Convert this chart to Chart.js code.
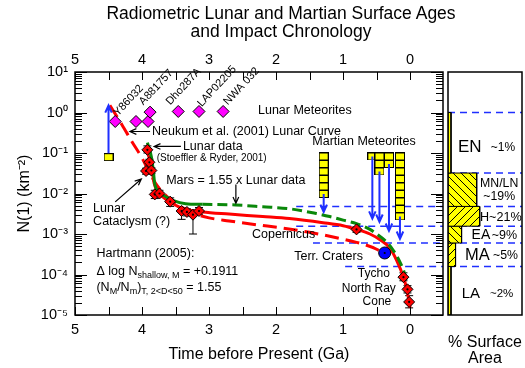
<!DOCTYPE html>
<html>
<head>
<meta charset="utf-8">
<script src="https://cdn.jsdelivr.net/npm/chart.js@4.4.1/dist/chart.umd.min.js"></script>
<style>
  html, body { margin: 0; padding: 0; background: #fff; }
  #wrap { position: relative; width: 525px; height: 368px; overflow: hidden; font-family: "Liberation Sans", Arial, sans-serif; }
  #title { position: absolute; left: 81px; top: 4px; width: 400px; text-align: center; font-size: 17.5px; line-height: 18.4px; color: #000; }
  #mainChart { position: absolute; left: 0; top: 0; }
  #areaChart { position: absolute; left: 440px; top: 0; }
</style>
</head>
<body>
<div id="wrap">
  <canvas id="mainChart" width="525" height="368"></canvas>
  <canvas id="areaChart" width="85" height="368"></canvas>
  <div id="title">Radiometric Lunar and Martian Surface Ages<br>and Impact Chronology</div>
</div>
<script>
// ---- data (ages in Ga, N = cumulative crater density N(1) per km^2) ----
const lunarAges = [3.92, 3.89, 3.94, 3.86, 3.81, 3.74, 3.58, 3.41, 3.33, 3.24, 3.15];
const lunarN = [0.12, 0.059, 0.036, 0.037, 0.0095, 0.010, 0.0063, 0.0037, 0.0035, 0.0030, 0.0037];
const lunarLow = [0.10, 0.050, 0.030, 0.031, 0.0075, 0.0085, 0.0048, 0.0023, 0.0028, 0.0010, 0.0030];
const lunarHigh = [0.15, 0.070, 0.042, 0.043, 0.012, 0.012, 0.0078, 0.0045, 0.0042, 0.0037, 0.0045];

const youngCraters = ["Copernicus", "Tycho", "North Ray", "Cone"];
const youngAges = [0.80, 0.10, 0.04, 0.015];
const youngN = [0.0013, 0.000086, 0.000043, 0.000021];
const youngLow = [0.0011, 0.00007, 0.000035, 0.000015];
const youngHigh = [0.0015, 0.00011, 0.000053, 0.00003];

const terrAges = [0.38];
const terrN = [0.00034];
const terrLow = [0.00027];
const terrHigh = [0.00036];

const lunarMeteorites = ["Y86032", "A881757", "Dho287A", "LAP02205", "NWA 032"];
const lunarMetAges = [4.40, 4.09, 3.91, 3.88, 3.46, 3.15, 2.79];
const lunarMetN = [0.6, 0.6, 0.6, 1.02, 1.06, 1.06, 1.06];

const marsMetAges = [1.29, 0.564, 0.458, 0.316, 0.152];
const marsMetCounts = [6, 1, 3, 2, 9];
const marsMetArrowN = [0.0035, 0.0024, 0.0020, 0.0012, 0.00076];
const alhAge = 4.50;
const alhN = 0.079;
const alhArrowN = 1.5;

const neukumAges = [4.48, 4.3, 4.15, 4.0, 3.9, 3.8, 3.7, 3.55, 3.4, 3.2, 3.0, 2.7, 2.3, 1.9, 1.5, 1.2, 0.9, 0.7, 0.5, 0.35];
const neukumN = [1.5, 0.5, 0.19, 0.075, 0.036, 0.018, 0.011, 0.0065, 0.0045, 0.0031, 0.0025, 0.0021, 0.0017, 0.0014, 0.0011, 0.00088, 0.00068, 0.00056, 0.00042, 0.0003];

const hartmannAges = [3.93, 3.89, 3.85, 3.82, 3.78, 3.7, 3.58, 3.45, 3.3, 3.1, 2.7, 2.2, 1.8, 1.3, 1.0, 0.8, 0.6, 0.45, 0.3, 0.2, 0.1, 0.05, 0.0];
const hartmannN = [0.13, 0.07, 0.035, 0.018, 0.012, 0.0085, 0.0062, 0.0047, 0.0039, 0.0035, 0.0031, 0.0027, 0.0024, 0.0019, 0.0016, 0.0013, 0.001, 0.00072, 0.00044, 0.00022, 0.000086, 0.000043, 0.000015];

const marsAges = [3.92, 3.86, 3.83, 3.81, 3.7, 3.53, 3.35, 3.1, 2.6, 2.2, 1.8, 1.4, 1.2, 1.0, 0.8, 0.6, 0.5, 0.35, 0.25, 0.15, 0.08, 0.03];
const marsN = [0.18, 0.08, 0.035, 0.017, 0.0095, 0.0067, 0.0056, 0.0054, 0.0052, 0.0047, 0.0042, 0.0032, 0.0027, 0.0022, 0.0018, 0.0013, 0.001, 0.00063, 0.00039, 0.0002, 0.0001, 0.00004];

const units = ["EN", "MN/LN", "H", "EA", "MA", "LA"];
const unitPct = ["~1%", "~19%", "~21%", "~9%", "~5%", "~2%"];
const unitBarLength = [2, 19, 21, 9, 5, 2];
const unitTopN = [1, 0.032, 0.0048, 0.00156, 0.0006, 0.000158];
const unitBottomN = [0.032, 0.0048, 0.00156, 0.0006, 0.000158, 0.00001];
const unitLineStartAge = [null, null, 1.7, 1.7, 1.45, 0.97];

const xTickValues = [0, 0.5, 1, 1.5, 2, 2.5, 3, 3.5, 4, 4.5, 5];
const yTickValues = [];
for (let e = -5; e < 1; e++) {
  for (let m = 1; m < 10; m++) yTickValues.push(m * Math.pow(10, e));
}
yTickValues.push(10);

// ---- layout ----
const X_MIN = -0.49;
const X_MAX = 5;
const SQUARE_STEP = 0.185;       // decades per stacked meteorite box
const MARS_STACK_TOP = 0.082;
const FONT = '"Liberation Sans", Arial, Helvetica, sans-serif';
const BLUE = "#1f2fff";

Chart.defaults.font.family = FONT;
Chart.defaults.color = "#000";
Chart.defaults.animation = false;

const SUP = { "-": "\u207b", "0": "\u2070", "1": "\u00b9", "2": "\u00b2", "3": "\u00b3", "4": "\u2074", "5": "\u2075" };
const powerLabel = (v) => {
  const e = Math.log10(v);
  if (Math.abs(e - Math.round(e)) > 1e-6) return "";
  return "10" + String(Math.round(e)).split("").map((c) => SUP[c]).join("");
};

const pts = (xs, ys) => xs.map((x, i) => ({ x, y: ys[i] }));

const boxSprite = (w, h) => {
  const c = document.createElement("canvas");
  c.width = w;
  c.height = h;
  const g = c.getContext("2d");
  g.fillStyle = "#ffff00";
  g.fillRect(0, 0, w, h);
  g.strokeStyle = "#000";
  g.lineWidth = 1;
  g.strokeRect(0.5, 0.5, w - 1, h - 1);
  return c;
};

const hatch = (dir) => {
  const c = document.createElement("canvas");
  c.width = 8;
  c.height = 8;
  const g = c.getContext("2d");
  g.fillStyle = "#ffff00";
  g.fillRect(0, 0, 8, 8);
  g.strokeStyle = "#000";
  g.lineWidth = 1;
  g.beginPath();
  if (dir > 0) {
    g.moveTo(-1, 9); g.lineTo(9, -1);
    g.moveTo(-1, 1); g.lineTo(1, -1);
    g.moveTo(7, 9); g.lineTo(9, 7);
  } else {
    g.moveTo(-1, -1); g.lineTo(9, 9);
    g.moveTo(7, -1); g.lineTo(9, 1);
    g.moveTo(-1, 7); g.lineTo(1, 9);
  }
  g.stroke();
  return g.createPattern(c, "repeat");
};

const marsSquares = [];
marsMetAges.forEach((t, i) => {
  for (let k = 0; k < marsMetCounts[i]; k++) {
    marsSquares.push({ x: t, y: MARS_STACK_TOP * Math.pow(10, -SQUARE_STEP * k) });
  }
});

// ---- annotation layout (data coordinates) ----
const notes = [
  { text: "Lunar Meteorites", t: 2.27, n: 1.12 },
  { text: "Neukum et al. (2001) Lunar Curve", t: 3.85, n: 0.34 },
  { text: "Lunar data", t: 3.39, n: 0.145 },
  { text: "(Stoeffler & Ryder, 2001)", t: 3.78, n: 0.075, size: 10 },
  { text: "Mars = 1.55 x Lunar data", t: 3.64, n: 0.021 },
  { text: "Martian Meteorites", t: 1.46, n: 0.19 },
  { text: "Lunar", t: 4.73, n: 0.0043 },
  { text: "Cataclysm (?)", t: 4.73, n: 0.002 },
  { text: "Hartmann (2005):", t: 4.68, n: 0.00033 },
  { text: youngCraters[0], t: 2.36, n: 0.00096 },
  { text: "Terr. Craters", t: 1.73, n: 0.00028 },
  { text: youngCraters[1], t: 0.78, n: 0.000104, size: 12 },
  { text: youngCraters[2], t: 1.02, n: 0.000044, size: 12 },
  { text: youngCraters[3], t: 0.71, n: 0.0000219, size: 12 }
];
const meteoriteLabelAt = [[4.36, 0.8], [3.98, 1.49], [3.58, 1.49], [3.11, 1.35], [2.72, 1.49]];
const formulaLines = [
  { t: 4.68, n: 0.000126, runs: [["\u0394 log N", 0], ["shallow, M", 1], [" = +0.1911", 0]] },
  { t: 4.68, n: 0.000052, runs: [["(N", 0], ["M", 1], ["/N", 0], ["m", 1], [")", 0], ["T, 2<D<50", 1], [" = 1.55", 0]] }
];
const blackArrows = [
  [3.88, 0.34, 4.18, 0.34],
  [3.42, 0.145, 3.82, 0.145],
  [4.40, 0.0062, 4.01, 0.0228],
  [2.60, 0.0167, 2.60, 0.0057]
];

// ---- drawing helpers ----
const arrow = (ctx, x1, y1, x2, y2, color, width, head) => {
  const ang = Math.atan2(y2 - y1, x2 - x1);
  ctx.save();
  ctx.strokeStyle = color;
  ctx.lineWidth = width;
  ctx.lineJoin = "miter";
  ctx.beginPath();
  ctx.moveTo(x1, y1);
  ctx.lineTo(x2, y2);
  ctx.moveTo(x2 - head * Math.cos(ang - 0.42), y2 - head * Math.sin(ang - 0.42));
  ctx.lineTo(x2, y2);
  ctx.lineTo(x2 - head * Math.cos(ang + 0.42), y2 - head * Math.sin(ang + 0.42));
  ctx.stroke();
  ctx.restore();
};

const label = (ctx, text, x, y, size, rot) => {
  ctx.save();
  ctx.translate(x, y);
  if (rot) ctx.rotate((rot * Math.PI) / 180);
  ctx.font = `${size}px ${FONT}`;
  ctx.fillStyle = "#000";
  ctx.textAlign = "left";
  ctx.textBaseline = rot ? "alphabetic" : "middle";
  ctx.fillText(text, 0, 0);
  ctx.restore();
};

const chronoOverlay = {
  id: "chronoOverlay",
  beforeDatasetsDraw(chart) {
    const { ctx, scales } = chart;
    const bars = (ages, low, high) => {
      ages.forEach((t, i) => {
        const x = scales.x.getPixelForValue(t);
        const y1 = scales.y.getPixelForValue(low[i]);
        const y2 = scales.y.getPixelForValue(high[i]);
        ctx.beginPath();
        ctx.moveTo(x, y1); ctx.lineTo(x, y2);
        ctx.moveTo(x - 4, y1); ctx.lineTo(x + 4, y1);
        ctx.moveTo(x - 4, y2); ctx.lineTo(x + 4, y2);
        ctx.stroke();
      });
    };
    ctx.save();
    ctx.strokeStyle = "#000";
    ctx.lineWidth = 1;
    bars(lunarAges, lunarLow, lunarHigh);
    bars(youngAges, youngLow, youngHigh);
    bars(terrAges, terrLow, terrHigh);
    ctx.restore();
  },
  afterDatasetsDraw(chart) {
    const { ctx, scales } = chart;
    const X = (t) => scales.x.getPixelForValue(t);
    const Y = (n) => scales.y.getPixelForValue(n);

    // meteorite age arrows
    arrow(ctx, X(alhAge), Y(alhN) - 4, X(alhAge), Y(alhArrowN), BLUE, 2, 8);
    marsMetAges.forEach((t, i) => {
      const bottom = MARS_STACK_TOP * Math.pow(10, -SQUARE_STEP * (marsMetCounts[i] - 1));
      arrow(ctx, X(t), Y(bottom), X(t), Y(marsMetArrowN[i]), BLUE, 2, 8);
    });
    blackArrows.forEach(([t1, n1, t2, n2]) => arrow(ctx, X(t1), Y(n1), X(t2), Y(n2), "#000", 1.2, 7));

    notes.forEach((d) => label(ctx, d.text, X(d.t), Y(d.n), d.size || 12.5, 0));
    lunarMeteorites.forEach((name, i) => {
      const [t, n] = meteoriteLabelAt[i];
      label(ctx, name, X(t), Y(n), 11, -47);
    });

    formulaLines.forEach((line) => {
      let cx = X(line.t);
      const base = Y(line.n) + 4.5;
      ctx.save();
      ctx.fillStyle = "#000";
      ctx.textBaseline = "alphabetic";
      line.runs.forEach(([s, sub]) => {
        ctx.font = `${sub ? 9 : 12.5}px ${FONT}`;
        ctx.fillText(s, cx, base + (sub ? 3.5 : 0));
        cx += ctx.measureText(s).width;
      });
      ctx.restore();
    });
  },
  afterDraw(chart) {
    const { ctx, chartArea: a, scales } = chart;
    ctx.save();
    ctx.strokeStyle = "#000";
    ctx.lineWidth = 1;
    ctx.beginPath();
    scales.x.ticks.forEach((tk) => {
      const x = Math.round(scales.x.getPixelForValue(tk.value)) + 0.5;
      ctx.moveTo(x, a.bottom); ctx.lineTo(x, a.bottom - 8);
      ctx.moveTo(x, a.top); ctx.lineTo(x, a.top + 8);
    });
    scales.y.ticks.forEach((tk) => {
      const y = Math.round(scales.y.getPixelForValue(tk.value)) + 0.5;
      const len = powerLabel(tk.value) ? 12 : 7;
      ctx.moveTo(a.left, y); ctx.lineTo(a.left + len, y);
      ctx.moveTo(a.right, y); ctx.lineTo(a.right - len, y);
    });
    ctx.stroke();
    ctx.lineWidth = 1.5;
    ctx.strokeRect(a.left, a.top, a.width, a.height);
    ctx.restore();
  }
};

const timeAxis = (position, fit) => ({
  type: "linear",
  position,
  min: X_MIN,
  max: X_MAX,
  reverse: true,
  grid: { display: false, drawTicks: false },
  border: { display: false },
  afterBuildTicks: (s) => { s.ticks = xTickValues.map((v) => ({ value: v })); },
  ticks: {
    autoSkip: false,
    maxRotation: 0,
    padding: position === "top" ? 3 : 6,
    font: { size: 14.5 },
    callback: (v) => (Number.isInteger(v) ? String(v) : "")
  },
  afterFit: fit
});

const xBottom = timeAxis("bottom", (s) => { s.height = 53; });
xBottom.title = { display: true, text: "Time before Present (Ga)", font: { size: 16 }, padding: { top: 0, bottom: 4 } };

const mainDatasets = [
  {
    label: "Lunar data",
    data: pts(lunarAges, lunarN).concat(pts(youngAges, youngN)),
    pointStyle: "rectRot", pointRadius: 5.5,
    backgroundColor: "#ff0000", borderColor: "#000", borderWidth: 1, order: 2
  },
  {
    label: "Terr. Craters",
    data: pts(terrAges, terrN),
    pointStyle: "circle", pointRadius: 6,
    backgroundColor: "#0000ff", borderColor: "#000", borderWidth: 1, order: 2
  },
  {
    label: "centres",
    data: pts(lunarAges, lunarN).concat(pts(youngAges, youngN), pts(terrAges, terrN)),
    pointStyle: "circle", pointRadius: 1.1,
    backgroundColor: "#000", borderWidth: 0, order: 1
  },
  {
    label: "Lunar Meteorites",
    data: pts(lunarMetAges, lunarMetN),
    pointStyle: "rectRot", pointRadius: 6,
    backgroundColor: "#ff00ff", borderColor: "#000", borderWidth: 1, order: 2
  },
  {
    label: "Martian Meteorites",
    data: marsSquares.concat([{ x: alhAge, y: alhN }]),
    pointStyle: boxSprite(10, 8), pointRadius: 5, order: 3
  },
  {
    type: "line", label: "Neukum et al. (2001)",
    data: pts(neukumAges, neukumN),
    borderColor: "#ff0000", borderWidth: 3, borderDash: [14, 7],
    pointRadius: 0, cubicInterpolationMode: "monotone", fill: false, order: 6
  },
  {
    type: "line", label: "Hartmann (2005)",
    data: pts(hartmannAges, hartmannN),
    borderColor: "#ff0000", borderWidth: 3,
    pointRadius: 0, cubicInterpolationMode: "monotone", fill: false, order: 5
  },
  {
    type: "line", label: "Mars",
    data: pts(marsAges, marsN),
    borderColor: "#0a880a", borderWidth: 3,
    pointRadius: 0, cubicInterpolationMode: "monotone", fill: false, order: 4,
    segment: { borderDash: (c) => (c.p0.parsed.x >= 3.35 ? [] : [10, 5]) }
  }
];
unitTopN.forEach((n, i) => {
  if (unitLineStartAge[i] === null) return;
  mainDatasets.push({
    type: "line", label: units[i] + " boundary",
    data: [{ x: unitLineStartAge[i], y: n }, { x: X_MIN, y: n }],
    borderColor: BLUE, borderWidth: 1.5, borderDash: [7, 5],
    pointRadius: 0, fill: false, order: 7
  });
});

new Chart(document.getElementById("mainChart"), {
  type: "scatter",
  data: { datasets: mainDatasets },
  options: {
    responsive: false,
    events: [],
    layout: { padding: { left: 0, right: 82, top: 0, bottom: 0 } },
    plugins: { legend: { display: false }, tooltip: { enabled: false }, title: { display: false } },
    scales: {
      x: xBottom,
      x2: timeAxis("top", (s) => { s.height = 72; }),
      y: {
        type: "logarithmic",
        min: 0.00001,
        max: 10,
        grid: { display: false, drawTicks: false },
        border: { display: false },
        afterBuildTicks: (s) => { s.ticks = yTickValues.map((v) => ({ value: v })); },
        ticks: { autoSkip: false, padding: 7, font: { size: 14.5 }, callback: (v) => powerLabel(v) },
        title: { display: true, text: "N(1) (km\u207b\u00b2)", font: { size: 16 }, padding: { top: 15, bottom: 0 } },
        afterFit: (s) => { s.width = 75; }
      }
    }
  },
  plugins: [chronoOverlay]
});

// ---- right panel: surface area of Martian units ----
const unitFill = ["#ffff00", hatch(-1), hatch(1), hatch(-1), hatch(1), "#ffff00"];
const unitLabels = [
  { text: units[0], x: 6.6, n: 0.139, size: 17 },
  { text: unitPct[0], x: 28.3, n: 0.139, size: 12 },
  { text: units[1], x: 21.2, n: 0.0177, size: 12.3 },
  { text: unitPct[1], x: 23.4, n: 0.0084, size: 12.3 },
  { text: units[2] + unitPct[2], x: 21.2, n: 0.0025, size: 12.6 },
  { text: units[3], x: 15.6, n: 0.00094, size: 14 },
  { text: unitPct[3], x: 28.9, n: 0.00094, size: 12.5 },
  { text: units[4], x: 11.3, n: 0.0003, size: 16.5 },
  { text: unitPct[4], x: 29.8, n: 0.0003, size: 12.3 },
  { text: units[5], x: 9.1, n: 0.000034, size: 15 },
  { text: unitPct[5], x: 27.8, n: 0.000034, size: 11.5 }
];

const areaOverlay = {
  id: "areaOverlay",
  afterDatasetsDraw(chart) {
    const { ctx, scales } = chart;
    unitLabels.forEach((d) => label(ctx, d.text, scales.x.getPixelForValue(d.x), scales.y.getPixelForValue(d.n), d.size, 0));
  },
  afterDraw(chart) {
    const { ctx, chartArea: a } = chart;
    ctx.save();
    ctx.strokeStyle = "#000";
    ctx.lineWidth = 1.5;
    ctx.strokeRect(a.left, a.top, a.width, a.height);
    ctx.restore();
  }
};

const areaDatasets = units.map((u, i) => ({
  type: "line", label: u,
  data: [
    { x: 0, y: unitTopN[i] },
    { x: unitBarLength[i], y: unitTopN[i] },
    { x: unitBarLength[i], y: unitBottomN[i] },
    { x: 0, y: unitBottomN[i] },
    { x: 0, y: unitTopN[i] }
  ],
  borderColor: "#000", borderWidth: 1, backgroundColor: unitFill[i],
  fill: "shape", pointRadius: 0, tension: 0, order: 1
}));
unitTopN.forEach((n, i) => {
  areaDatasets.push({
    type: "line", label: units[i] + " top",
    data: [{ x: 0, y: n }, { x: 49, y: n }],
    borderColor: BLUE, borderWidth: 1.5, borderDash: [7, 5],
    pointRadius: 0, fill: false, order: 2
  });
});

new Chart(document.getElementById("areaChart"), {
  type: "scatter",
  data: { datasets: areaDatasets },
  options: {
    responsive: false,
    events: [],
    layout: { padding: { left: 8, right: 3, top: 72, bottom: 0 } },
    plugins: { legend: { display: false }, tooltip: { enabled: false } },
    scales: {
      x: {
        type: "linear", min: 0, max: 49,
        grid: { display: false, drawTicks: false },
        border: { display: false },
        ticks: { display: false },
        title: { display: true, text: ["% Surface", "Area"], font: { size: 16, lineHeight: 1 }, padding: { top: 0, bottom: 1 } },
        afterFit: (s) => { s.height = 53; }
      },
      y: { type: "logarithmic", min: 0.00001, max: 10, display: false }
    }
  },
  plugins: [areaOverlay]
});
</script>
</body>
</html>
